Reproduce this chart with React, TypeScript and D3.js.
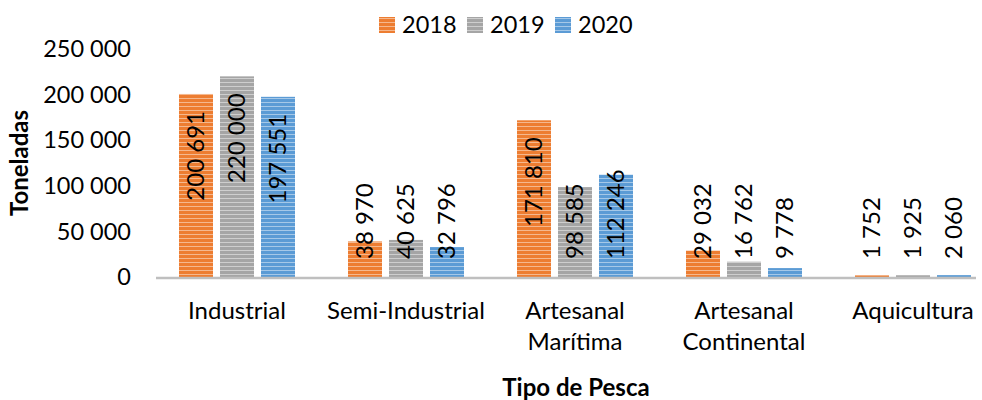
import React, { useRef, useEffect } from 'react';
import * as d3 from 'd3';

const categories = ['Industrial', 'Semi-Industrial', 'Artesanal Marítima', 'Artesanal Continental', 'Aquicultura'];
const years = ['2018', '2019', '2020'];
const values2018 = [200691, 38970, 171810, 29032, 1752];
const values2019 = [220000, 40625, 98585, 16762, 1925];
const values2020 = [197551, 32796, 112246, 9778, 2060];
const yTicks = [0, 50000, 100000, 150000, 200000, 250000];

const colors = ['#ED7D31', '#A5A5A5', '#5B9BD5'];
const FONT = 'Lato, "Open Sans", sans-serif';

const fmt = (v: number) => d3.format(',')(v).replace(/,/g, ' ');

const App = () => {
  const ref = useRef<SVGSVGElement>(null);

  useEffect(() => {
    const svg = d3.select(ref.current);
    svg.selectAll('*').remove();

    const series = [values2018, values2019, values2020];

    const x = d3.scaleBand().domain(categories).range([152.5, 997.5]);
    const y = d3.scaleLinear().domain([0, 250000]).range([277, 49]);
    const barW = 34;
    const barStep = 41;

    const defs = svg.append('defs');
    colors.forEach((c, i) => {
      const p = defs.append('pattern')
        .attr('id', `stripe${i}`)
        .attr('patternUnits', 'userSpaceOnUse')
        .attr('width', 8)
        .attr('height', 4);
      p.append('rect').attr('width', 8).attr('height', 4).attr('fill', c);
      p.append('rect').attr('y', 2).attr('width', 8).attr('height', 1)
        .attr('fill', '#fff').attr('opacity', 0.45);
    });

    // y tick labels
    svg.append('g')
      .selectAll('text')
      .data(yTicks)
      .join('text')
      .attr('x', 131)
      .attr('y', d => y(d))
      .attr('dy', '0.35em')
      .attr('text-anchor', 'end')
      .attr('font-family', FONT)
      .attr('font-size', 23.5)
      .attr('fill', '#000')
      .text(d => fmt(d));

    // bars
    series.forEach((vals, si) => {
      const g = svg.append('g');
      g.selectAll('rect')
        .data(vals)
        .join('rect')
        .attr('x', (d, i) => x(categories[i])! + x.bandwidth() / 2 + (si - 1) * barStep - barW / 2)
        .attr('y', d => y(d))
        .attr('width', barW)
        .attr('height', d => y(0) - y(d))
        .attr('fill', `url(#stripe${si})`);
    });

    // axis line
    svg.append('line')
      .attr('x1', 156).attr('x2', 976)
      .attr('y1', y(0) + 1).attr('y2', y(0) + 1)
      .attr('stroke', '#BFBFBF').attr('stroke-width', 2.5);

    // data labels
    series.forEach((vals, si) => {
      vals.forEach((v, i) => {
        const cx = x(categories[i])! + x.bandwidth() / 2 + (si - 1) * barStep;
        const t = svg.append('text')
          .attr('font-family', FONT)
          .attr('font-size', 24)
          .attr('fill', '#000')
          .attr('dy', '0.35em')
          .text(fmt(v));
        const len = (t.node() as SVGTextElement).getComputedTextLength();
        const top = Math.min(y(v) + 17, y(0) - 18 - len);
        t.attr('text-anchor', 'end')
          .attr('transform', `translate(${cx},${top}) rotate(-90)`);
      });
    });

    // category labels
    const catG = svg.append('g');
    categories.forEach(c => {
      const words = c.split(' ');
      const t = catG.append('text')
        .attr('x', x(c)! + x.bandwidth() / 2)
        .attr('y', 319)
        .attr('text-anchor', 'middle')
        .attr('font-family', FONT)
        .attr('font-size', 24)
        .attr('fill', '#000');
      words.forEach((w, wi) => {
        t.append('tspan')
          .attr('x', x(c)! + x.bandwidth() / 2)
          .attr('dy', wi === 0 ? 0 : 31)
          .text(w);
      });
    });

    // axis titles
    svg.append('text')
      .attr('x', 576).attr('y', 396)
      .attr('text-anchor', 'middle')
      .attr('font-family', FONT)
      .attr('font-weight', 'bold')
      .attr('font-size', 24)
      .text('Tipo de Pesca');

    svg.append('text')
      .attr('transform', 'translate(20,163) rotate(-90)')
      .attr('dy', '0.35em')
      .attr('text-anchor', 'middle')
      .attr('font-family', FONT)
      .attr('font-weight', 'bold')
      .attr('font-size', 24)
      .text('Toneladas');

    // legend
    const legendX = [379, 467, 555];
    years.forEach((yr, i) => {
      svg.append('rect')
        .attr('x', legendX[i]).attr('y', 17)
        .attr('width', 16).attr('height', 16)
        .attr('fill', `url(#stripe${i})`);
      svg.append('text')
        .attr('x', legendX[i] + 23).attr('y', 25)
        .attr('dy', '0.35em')
        .attr('font-family', FONT)
        .attr('font-size', 23.5)
        .text(yr);
    });
  }, []);

  return (
    <svg ref={ref} width={982} height={400}
      style={{ position: 'absolute', left: 0, top: 0, background: '#fff' }} />
  );
};

export default App;
